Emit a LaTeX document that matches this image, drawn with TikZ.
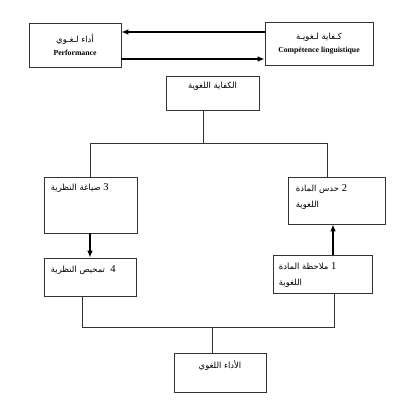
\documentclass[tikz,border=0pt]{standalone}
\usepackage{fontspec}
\setmainfont{Liberation Serif}
\newfontfamily\arabicfont[Script=Arabic]{DejaVu Sans}
\TeXXeTstate=1
\usetikzlibrary{arrows.meta, positioning}

\def\px{0.025cm}
\newcommand{\ar}[1]{{\arabicfont\beginR #1\endR}}
\newcommand{\num}[1]{{\rmfamily\fontsize{7.5}{9}\selectfont #1}}

\begin{document}
\begin{tikzpicture}[x=0.025cm, y=-0.025cm,
  every node/.style={font=\fontsize{6}{8}\selectfont},
  box/.style 2 args={draw=black!80, line width=0.5pt, inner sep=0pt,
    minimum width=#1*\px, minimum height=#2*\px},
  txt/.style={anchor=north west, inner sep=0pt, align=left,
    font=\fontsize{6}{11}\selectfont},
  wire/.style={draw=black!80, line width=0.5pt},
  arr/.style={-{Latex[length=5pt,width=4pt]}, line width=0.9pt}]

  \useasboundingbox (0,0) rectangle (400,400);

  % top pair
  \node[box={92}{44}, align=center] (perf) at (75,45)
    {\ar{أداء لـغـوي}\\[1pt]{\fontsize{5.5}{6.5}\selectfont\bfseries Performance}};
  \node[box={108}{43}, align=center] (comp) at (319,43.5)
    {\ar{كـفاية لـغويـة}\\[1pt]{\fontsize{5.5}{6.5}\selectfont\bfseries Compétence linguistique}};

  \coordinate (up) at (0,32);
  \coordinate (dn) at (0,59);
  \draw[arr] (comp.west |- up) -- (perf.east |- up);
  \draw[arr] (perf.east |- dn) -- (comp.west |- dn);

  % competence box
  \node[box={93}{34}] (compL) at (212.5,93) {};
  \node[txt, anchor=north] (compLt) at ([yshift=-6*\px]compL.north) {\ar{الكفاية اللغوية}};

  % four steps
  \node[box={93}{56}] (formul) at (90.5,205) {};
  \node[txt] (formult) at ([shift={(7,7)}]formul.north west) {\ar{\num{3} صياغة النظرية}};
  \node[box={97}{47}] (intuit) at (336.5,200.5) {};
  \node[txt] (intuitt) at ([shift={(8,8)}]intuit.north west)
    {\ar{\num{2} حدس المادة}\\\ar{اللغوية}};
  \node[box={92}{38}] (test) at (90,277) {};
  \node[txt] (testt) at ([shift={(7,8)}]test.north west) {\ar{\num{4}\ \ تمحيص النظرية}};
  \node[box={99}{38}] (observ) at (322.5,274) {};
  \node[txt] (observt) at ([shift={(6,8)}]observ.north west)
    {\ar{\num{1} ملاحظة المادة}\\\ar{اللغوية}};

  % performance box
  \node[box={92}{39}] (perfL) at (220,372.5) {};
  \node[txt, anchor=north] (perfLt) at ([yshift=-8*\px]perfL.north) {\ar{الأداء اللغوي}};

  % upper tree
  \coordinate (j1) at (203,143);
  \coordinate (k3) at (90,143);
  \coordinate (k2) at (327,143);
  \draw[wire] (compL.south -| j1) -- (j1);
  \draw[wire] (formul.north -| k3) -- (k3) -- (k2) -- (intuit.north -| k2);

  % arrows between steps
  \coordinate (a12) at (333,0);
  \draw[arr] (formul.south -| k3) -- (test.north -| k3);
  \draw[arr] (observ.north -| a12) -- (intuit.south -| a12);

  % lower tree
  \coordinate (m4) at (82,327);
  \coordinate (m1) at (334,327);
  \coordinate (m0) at (212,327);
  \draw[wire] (test.south -| m4) -- (m4) -- (m1) -- (observ.south -| m1);
  \draw[wire] (m0) -- (perfL.north -| m0);
\end{tikzpicture}
\end{document}
